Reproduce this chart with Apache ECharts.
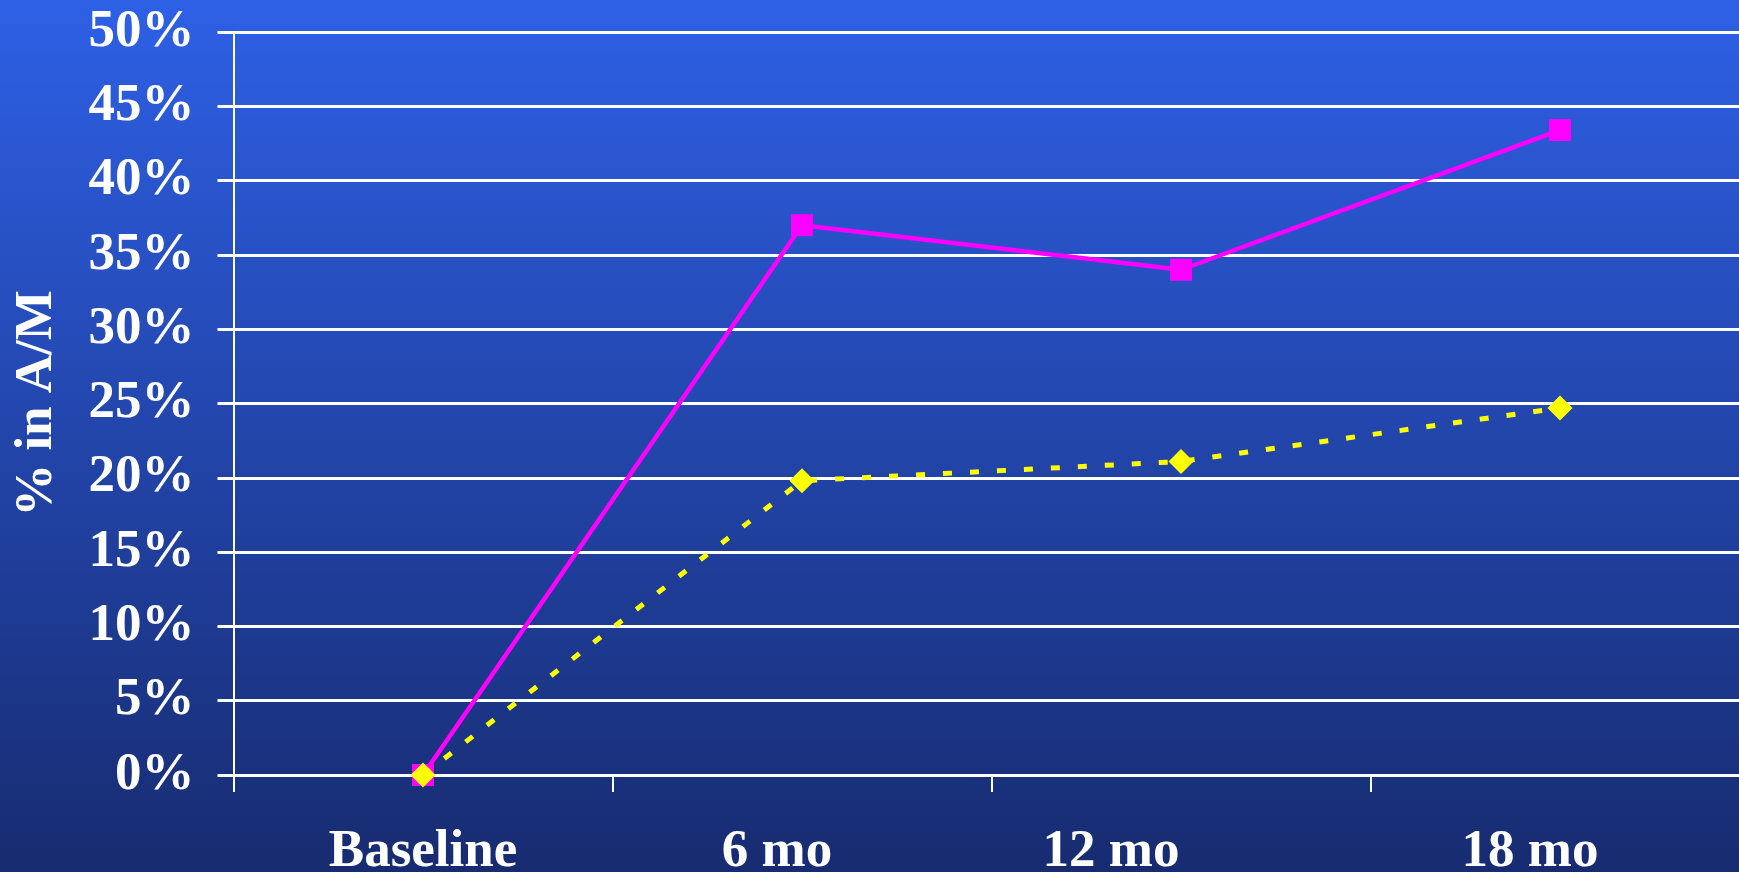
<!DOCTYPE html>
<html>
<head>
<meta charset="utf-8">
<script src="https://cdn.jsdelivr.net/npm/echarts@6/dist/echarts.min.js"></script>
<style>
html,body{margin:0;padding:0;}
#chart{width:1739px;height:872px;}
</style>
</head>
<body>
<div id="chart"></div>
<script>
const categories = ['Baseline', '6 mo', '12 mo', '18 mo'];
const seriesPink = [0, 37, 34, 43.4];
const seriesYellow = [0, 19.8, 21.1, 24.7];
const yTicks = { min: 0, max: 50, interval: 5 };
const yAxisTitle = '% in A/M';

const font = 'Liberation Serif, Times New Roman, serif';
const labelStyle = { color: '#FFFFFF', fontFamily: font, fontWeight: 'bold', fontSize: 53 };
// horizontal nudges of category labels (as in the original slide)
const nudge = [0, 50, 140, 60];
const rich = {};
nudge.forEach((p, i) => { rich['c' + i] = Object.assign({ padding: [0, p, 0, 0] }, labelStyle); });

const chart = echarts.init(document.getElementById('chart'));
chart.setOption({
  animation: false,
  backgroundColor: new echarts.graphic.LinearGradient(0, 0, 0, 1, [
    { offset: 0, color: '#2E60E6' },
    { offset: 1, color: '#172B70' }
  ]),
  grid: { left: 233.5, top: 32, width: 1516, height: 743, containLabel: false, outerBoundsMode: 'none' },
  xAxis: {
    type: 'category',
    data: categories,
    boundaryGap: true,
    axisLine: { lineStyle: { color: '#FFFFFF', width: 3 } },
    axisTick: { show: true, interval: 0, length: 17, lineStyle: { color: '#FFFFFF', width: 2 } },
    axisLabel: Object.assign({}, labelStyle, {
      interval: 0,
      hideOverlap: false,
      margin: 51,
      formatter: (v, i) => '{c' + i + '|' + v + '}',
      rich: rich
    }),
    splitLine: { show: false }
  },
  yAxis: {
    type: 'value',
    min: yTicks.min, max: yTicks.max, interval: yTicks.interval,
    name: yAxisTitle,
    nameLocation: 'middle',
    nameRotate: 90,
    nameGap: 170,
    nameTextStyle: labelStyle,
    axisLine: { show: true, lineStyle: { color: '#FFFFFF', width: 2 } },
    axisTick: { show: true, length: 16, lineStyle: { color: '#FFFFFF', width: 3 } },
    axisLabel: Object.assign({}, labelStyle, { margin: 39, formatter: '{value}%' }),
    splitLine: { show: true, lineStyle: { color: '#FFFFFF', width: 3 } }
  },
  series: [
    {
      type: 'line',
      data: seriesPink,
      symbol: 'rect',
      symbolSize: 22,
      itemStyle: { color: '#FF00FF' },
      lineStyle: { color: '#FF00FF', width: 4.5 },
      z: 3
    },
    {
      type: 'line',
      data: seriesYellow,
      symbol: 'diamond',
      symbolSize: 25,
      itemStyle: { color: '#FFFF00' },
      lineStyle: { color: '#FFFF00', width: 5, type: [9, 18] },
      z: 4
    }
  ]
});
</script>
</body>
</html>
